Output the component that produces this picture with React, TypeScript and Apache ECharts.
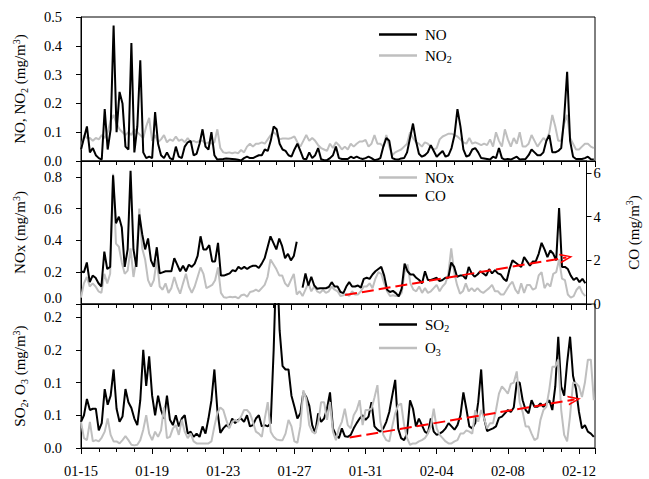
import React, { useEffect, useRef } from "react";
import * as echarts from "echarts";

// Sampling step of the series (hours); first sample at 01-15 00:00
const STEP_HOURS = 4;
const dateLabels = ["01-15", "01-19", "01-23", "01-27", "01-31", "02-04", "02-08", "02-12"];
const so2TickLabels = ["0.0", "0.1", "0.1", "0.2", "0.2"];

const NO = [
  0.04, 0.08, 0.12, 0.03, 0.045, 0.02,
  0.01, 0.005, 0.18, 0.04, 0.11, 0.47,
  0.10, 0.24, 0.20, 0.05, 0.04, 0.41,
  0.03, 0.12, 0.35, 0.03, 0.01, 0.015,
  0.01, 0.17, 0.06, 0.02, 0.01, 0.03,
  0.01, 0.005, 0.05, 0.015, 0.01, 0.05,
  0.065, 0.07, 0.02, 0.025, 0.06, 0.11,
  0.05, 0.04, 0.10, 0.02, 0.005, 0.006,
  0.007, 0.009, 0.008, 0.007, 0.006, 0.004,
  0.002, 0.01, 0.015, 0.01, 0.01, 0.015,
  0.02, 0.02, 0.04, 0.035, 0.07, 0.12,
  0.11, 0.06, 0.04, 0.035, 0.02, 0.015,
  0.04, 0.06, 0.035, 0.008, 0.006, 0.03,
  0.01, 0.02, 0.045, 0.006, 0.003, 0.003,
  0.01, 0.02, 0.05, 0.01, 0.007, 0.007,
  0.007, 0.015, 0.01, 0.015, 0.01, 0.007,
  0.01, 0.015, 0.01, 0.003, 0.005, 0.01,
  0.05, 0.08, 0.07, 0.01, 0.006, 0.005,
  0.009, 0.01, 0.03, 0.08, 0.13, 0.07,
  0.025, 0.015, 0.02, 0.03, 0.055, 0.035,
  0.015, 0.025, 0.035, 0.015, 0.02, 0.045,
  0.09, 0.18, 0.12, 0.04, 0.015, 0.02,
  0.04, 0.045, 0.03, 0.01, 0.009, 0.007,
  0.005, 0.015, 0.01, 0.045, 0.01, 0.005,
  0.007, 0.005, 0.01, 0.015, 0.005, 0.006,
  0.007, 0.02, 0.04, 0.03, 0.02, 0.02,
  0.03, 0.07, 0.09, 0.03, 0.03, 0.035,
  0.045, 0.15, 0.31, 0.07, 0.015, 0.007,
  0.007, 0.007, 0.01, 0.015, 0.006, 0.005,
];

const NO2 = [
  0.04, 0.09, 0.08, 0.08, 0.07, 0.08,
  0.075, 0.09, 0.08, 0.10, 0.14, 0.16,
  0.13, 0.11, 0.10, 0.09, 0.10, 0.09,
  0.11, 0.10, 0.09, 0.08, 0.12, 0.15,
  0.07, 0.09, 0.065, 0.075, 0.09, 0.065,
  0.075, 0.07, 0.085, 0.07, 0.075, 0.065,
  0.08, 0.065, 0.07, 0.065, 0.07, 0.07,
  0.06, 0.065, 0.06, 0.065, 0.11, 0.045,
  0.03, 0.028, 0.03, 0.027, 0.03, 0.027,
  0.038, 0.03, 0.05, 0.06, 0.05, 0.06,
  0.06, 0.065, 0.06, 0.075, 0.09, 0.10,
  0.09, 0.075, 0.078, 0.078, 0.077, 0.08,
  0.085, 0.065, 0.05, 0.07, 0.09, 0.07,
  0.08, 0.07, 0.055, 0.045, 0.04, 0.035,
  0.06, 0.045, 0.065, 0.055, 0.04, 0.05,
  0.04, 0.06, 0.05, 0.06, 0.068, 0.068,
  0.073, 0.05, 0.06, 0.09, 0.06, 0.06,
  0.05, 0.09, 0.05, 0.02, 0.03, 0.035,
  0.04, 0.05, 0.06, 0.10, 0.08, 0.065,
  0.06, 0.05, 0.065, 0.06, 0.05, 0.04,
  0.045, 0.075, 0.085, 0.09, 0.095, 0.095,
  0.09, 0.085, 0.075, 0.065, 0.06, 0.08,
  0.06, 0.065, 0.06, 0.055, 0.06, 0.055,
  0.075, 0.05, 0.10, 0.07, 0.05, 0.11,
  0.075, 0.05, 0.08, 0.06, 0.10, 0.05,
  0.05, 0.06, 0.09, 0.07, 0.05, 0.065,
  0.08, 0.07, 0.10, 0.16, 0.12, 0.07,
  0.07, 0.13, 0.16, 0.08, 0.06, 0.04,
  0.04, 0.05, 0.06, 0.06, 0.05, 0.045,
];

const NOX = [
  0.04, 0.13, 0.17, 0.11, 0.13, 0.11,
  0.08, 0.07, 0.19, 0.13, 0.19, 0.82,
  0.38, 0.36, 0.26, 0.19, 0.21, 0.35,
  0.17, 0.28, 0.60, 0.35, 0.28, 0.15,
  0.11, 0.15, 0.28, 0.11, 0.09, 0.13,
  0.07, 0.10, 0.17, 0.11, 0.065, 0.13,
  0.19, 0.11, 0.07, 0.11, 0.17, 0.23,
  0.19, 0.10, 0.11, 0.12, 0.15, 0.23,
  0.07, 0.042, 0.04, 0.045, 0.042, 0.045,
  0.035, 0.055, 0.06, 0.045, 0.075, 0.08,
  0.09, 0.08, 0.10, 0.12, 0.17, 0.28,
  0.25, 0.22, 0.18, 0.18, 0.13, 0.11,
  0.15, 0.19, 0.06, 0.08, 0.05, 0.09,
  0.13, 0.08, 0.11, 0.08, 0.07, 0.09,
  0.07, 0.08, 0.11, 0.09, 0.08, 0.05,
  0.055, 0.065, 0.05, 0.08, 0.06, 0.06,
  0.08, 0.11, 0.11, 0.13, 0.10, 0.16,
  0.20, 0.19, 0.13, 0.08, 0.05, 0.055,
  0.05, 0.05, 0.07, 0.20, 0.25, 0.13,
  0.09, 0.08, 0.11, 0.07, 0.10, 0.07,
  0.08, 0.10, 0.12, 0.08, 0.11, 0.13,
  0.19, 0.35, 0.20, 0.12, 0.065, 0.08,
  0.13, 0.08, 0.10, 0.08, 0.10, 0.08,
  0.07, 0.085, 0.10, 0.12, 0.08, 0.08,
  0.06, 0.06, 0.09, 0.12, 0.14, 0.09,
  0.065, 0.13, 0.07, 0.12, 0.12, 0.09,
  0.10, 0.18, 0.20, 0.10, 0.13, 0.11,
  0.19, 0.20, 0.28, 0.16, 0.15, 0.06,
  0.04, 0.05, 0.09, 0.11, 0.07, 0.05,
];

const CO = [
  1.5, 1.45, 1.9, 1.0, 1.3, 1.2,
  0.95, 0.8, 2.4, 1.6, 1.7, 5.9,
  3.7, 4.0, 3.5, 1.7, 2.5, 6.1,
  2.5, 1.7, 4.1, 3.2, 2.5, 3.0,
  2.0, 1.7, 2.6, 1.4, 1.45, 1.5,
  1.5, 1.5, 2.1, 1.8, 1.5, 1.75,
  1.5, 1.8, 1.7, 1.85, 2.2, 3.1,
  2.5, 2.5, 2.7, 1.95, 1.95, 2.8,
  1.3, 1.3, 1.35, 1.4, 1.55, 1.5,
  1.7, 1.6, 1.7, 1.6, 1.7, 1.75,
  1.75, 1.65, 1.85, 2.1, 2.6, 3.1,
  2.8, 2.5, 3.0, 2.65, 2.1, 2.3,
  2.0, 2.2, 2.85, null, 0.75, 1.4,
  0.85, 1.25, 0.85, 0.7, 0.72, 0.72,
  0.72, 0.78, 1.0, 0.8, 0.8, 0.55,
  0.5, 0.8, 1.0, 0.8, 0.8, 0.85,
  0.75, 1.15, 1.2, 1.15, 1.35, 1.5,
  1.6, 1.7, 1.3, 0.65, 0.55, 0.6,
  0.5, 0.35, 0.7, 1.85, 1.5, 1.35,
  1.35, 1.2, 1.1, 0.95, 1.5, 1.1,
  1.1, 1.15, 1.2, 1.05, 1.1, 1.2,
  1.2, 1.9, 1.7, 1.25, 1.3, 1.3,
  1.15, 1.7, 1.4, 1.25, 1.35, 1.5,
  1.4, 1.3, 1.6, 1.4, 1.55, 1.4,
  1.35, 1.15, 1.05, 1.6, 2.0, 1.9,
  1.8, 1.7, 2.15, 1.95, 1.75, 1.95,
  1.95, 2.3, 2.8, 2.5, 2.15, 2.45,
  2.3, 2.0, 4.4, 1.7, 1.7, 1.6,
  1.3, 1.1, 1.2, 1.0, 1.15, 0.95,
];

const SO2 = [
  0.04, 0.05, 0.075, 0.058, 0.06, 0.06,
  0.027, 0.038, 0.09, 0.066, 0.08, 0.12,
  0.06, 0.04, 0.048, 0.09, 0.07, 0.061,
  0.045, 0.035, 0.073, 0.15, 0.095, 0.14,
  0.08, 0.05, 0.08, 0.058, 0.045, 0.08,
  0.043, 0.035, 0.05, 0.033, 0.045, 0.05,
  0.022, 0.025, 0.017, 0.022, 0.017, 0.033,
  0.022, 0.045, 0.073, 0.12, 0.058, 0.023,
  0.03, 0.035, 0.032, 0.045, 0.038, 0.043,
  0.045, 0.04, 0.05, 0.033, 0.035, 0.045,
  0.05, 0.033, 0.035, 0.033, 0.038, 0.15,
  0.30, 0.18, 0.125, 0.12, 0.12, 0.08,
  0.063, 0.045, 0.053, 0.085, 0.078, 0.065,
  0.035, 0.023, 0.053, 0.04, 0.045, 0.06,
  0.085, 0.03, 0.02, 0.015, 0.03, 0.018,
  0.017, 0.02, 0.03, 0.038, 0.045, 0.05,
  0.043, 0.048, 0.07, 0.033, 0.028, 0.025,
  0.03, 0.04, 0.055, 0.08, 0.104, 0.03,
  0.015, 0.012, 0.022, 0.073, 0.06, 0.033,
  0.045, 0.035, 0.025, 0.022, 0.045, 0.025,
  0.02, 0.022, 0.025, 0.03, 0.038, 0.033,
  0.028, 0.035, 0.05, 0.085, 0.06, 0.033,
  0.03, 0.038, 0.07, 0.12, 0.045, 0.026,
  0.028, 0.03, 0.033, 0.046, 0.048, 0.053,
  0.058, 0.055, 0.062, 0.10, 0.10, 0.073,
  0.058, 0.053, 0.073, 0.063, 0.063, 0.068,
  0.063, 0.068, 0.073, 0.058, 0.094, 0.17,
  0.094, 0.08, 0.13, 0.17, 0.11, 0.09,
  0.055, 0.03, 0.035, 0.025, 0.022, 0.017,
];

const O3 = [
  0.04, 0.015, 0.012, 0.04, 0.01, 0.012,
  0.01, 0.016, 0.025, 0.045, 0.02, 0.01,
  0.01, 0.007, 0.012, 0.018, 0.012, 0.005,
  0.004, 0.005, 0.012, 0.028, 0.05, 0.022,
  0.012, 0.025, 0.017, 0.027, 0.062, 0.015,
  0.017, 0.03, 0.035, 0.02, 0.043, 0.025,
  0.015, 0.022, 0.01, 0.007, 0.007, 0.007,
  0.007, 0.007, 0.01, 0.033, 0.053, 0.062,
  0.058, 0.043, 0.03, 0.04, 0.043, 0.04,
  0.048, 0.058, 0.058, 0.053, 0.04, 0.025,
  0.022, 0.017, 0.045, 0.07, 0.025, 0.017,
  0.013, 0.012, 0.012, 0.022, 0.043, 0.033,
  0.01, 0.008, 0.033, 0.088, 0.075, 0.035,
  0.025, 0.022, 0.038, 0.07, 0.07, 0.043,
  0.07, 0.025, 0.012, 0.03, 0.04, 0.06,
  0.035, 0.03, 0.05, 0.058, 0.073, 0.035,
  0.058, 0.058, 0.06, 0.077, 0.096, 0.04,
  0.02, 0.012, 0.01, 0.033, 0.053, 0.065,
  0.068, 0.035, 0.015, 0.005, 0.007, 0.007,
  0.01, 0.012, 0.015, 0.022, 0.033, 0.06,
  0.03, 0.02, 0.015, 0.01, 0.007, 0.007,
  0.01, 0.012, 0.022, 0.022, 0.027, 0.025,
  0.022, 0.058, 0.04, 0.058, 0.045, 0.03,
  0.038, 0.038, 0.058, 0.083, 0.094, 0.089,
  0.083, 0.098, 0.10, 0.117, 0.07, 0.055,
  0.033, 0.033, 0.022, 0.012, 0.015, 0.043,
  0.058, 0.063, 0.09, 0.124, 0.124, 0.135,
  0.058, 0.02, 0.01, 0.05, 0.10, 0.099,
  0.094, 0.078, 0.10, 0.135, 0.135, 0.073,
];

// Trend arrows: [day, value] start and end
const coTrend = [[15.1, 0.41], [27.75, 2.13]];
const so2Trend = [[15.1, 0.016], [27.75, 0.074]];

const FONT = "'Liberation Serif', 'Times New Roman', serif";
const GREY = "#bfbfbf";
const CHEVRON = "path://M5,0 L10,12 L8.2,12 L5,3.6 L1.8,12 L0,12 Z";

const legendText: Record<string, string> = {
  NO: "{n|NO}",
  NO2: "{n|NO}{sub|2}",
  NOx: "{n|NOx}",
  CO: "{n|CO}",
  SO2: "{n|SO}{sub|2}",
  O3: "{n|O}{sub|3}",
};

export default function App() {
  const ref = useRef<HTMLDivElement>(null);
  useEffect(() => {
    const chart = echarts.init(ref.current!, null, { renderer: "svg" });
    const days = NO.map((_, i) => (i * STEP_HOURS) / 24);
    const pair = (arr: (number | null)[]) => arr.map((v, i) => [days[i], v]);

    const rich = {
      n: { fontFamily: FONT, fontSize: 15, lineHeight: 18, verticalAlign: "middle", color: "#000" },
      sub: { fontFamily: FONT, fontSize: 10, lineHeight: 10, verticalAlign: "bottom", color: "#000" },
      sup: { fontFamily: FONT, fontSize: 10, lineHeight: 10, verticalAlign: "top", color: "#000" },
    };
    const near = (v: number, step: number) => Math.abs(v / step - Math.round(v / step)) < 1e-6;
    const labelStyle = { fontFamily: FONT, fontSize: 14.5, lineHeight: 12, color: "#000" };
    const axisLine = { show: true, lineStyle: { color: "#000", width: 1 } };
    const tick = { show: true, inside: false, length: 5, lineStyle: { color: "#000" } };

    const grids = [
      { left: 81, right: 54, top: 17, height: 144 },
      { left: 81, right: 54, top: 161, height: 143 },
      { left: 81, right: 54, top: 304, height: 144 },
    ].map((g) => ({ ...g, show: true, borderColor: "#000", borderWidth: 1, backgroundColor: "transparent" }));

    const xAxes = [0, 1, 2].map((gi) => ({
      type: "value",
      gridIndex: gi,
      min: 0,
      max: 28.9,
      interval: 4,
      axisLine,
      axisTick: { show: true, inside: false, length: 6, lineStyle: { color: "#000" } },
      minorTick: { show: true, splitNumber: 4, length: 4, lineStyle: { color: "#000" } },
      splitLine: { show: false },
      axisLabel: {
        show: gi === 2,
        ...labelStyle,
        lineHeight: 16,
        margin: 15,
        formatter: (v: number) => (near(v, 4) ? dateLabels[Math.round(v / 4)] ?? "" : ""),
      },
    }));

    const yAxes = [
      {
        type: "value",
        gridIndex: 0,
        min: 0,
        max: 0.5,
        interval: 0.1,
        name: "{n|NO, NO}{sub|2}{n| (mg/m}{sup|3}{n|)}",
        nameLocation: "middle",
        nameRotate: 90,
        nameGap: 52,
        nameTextStyle: { rich },
        axisLine,
        axisTick: tick,
        splitLine: { show: false },
        axisLabel: { ...labelStyle, margin: 19, formatter: (v: number) => v.toFixed(1) },
      },
      {
        type: "value",
        gridIndex: 1,
        min: 0,
        max: 0.9,
        interval: 0.2,
        name: "{n|NOx (mg/m}{sup|3}{n|)}",
        nameLocation: "middle",
        nameRotate: 90,
        nameGap: 52,
        nameTextStyle: { rich },
        axisLine,
        axisTick: tick,
        splitLine: { show: false },
        axisLabel: {
          ...labelStyle,
          margin: 19,
          verticalAlignMinLabel: "bottom",
          formatter: (v: number) => (near(v, 0.2) ? v.toFixed(1) : ""),
        },
      },
      {
        type: "value",
        gridIndex: 1,
        position: "right",
        min: 0,
        max: 6.55,
        interval: 2,
        name: "{n|CO (mg/m}{sup|3}{n|)}",
        nameLocation: "middle",
        nameRotate: 90,
        nameGap: 38,
        nameTextStyle: { rich },
        axisLine,
        axisTick: tick,
        splitLine: { show: false },
        axisLabel: { ...labelStyle, margin: 7, formatter: (v: number) => (near(v, 2) ? String(Math.round(v)) : "") },
      },
      {
        type: "value",
        gridIndex: 2,
        min: 0,
        max: 0.22,
        interval: 0.05,
        name: "{n|SO}{sub|2}{n|, O}{sub|3}{n| (mg/m}{sup|3}{n|)}",
        nameLocation: "middle",
        nameRotate: 90,
        nameGap: 52,
        nameTextStyle: { rich },
        axisLine,
        axisTick: tick,
        splitLine: { show: false },
        axisLabel: {
          ...labelStyle,
          margin: 19,
          formatter: (v: number) => (near(v, 0.05) ? so2TickLabels[Math.round(v / 0.05)] ?? "" : ""),
        },
      },
    ];

    const legendBase = {
      orient: "vertical",
      left: 379,
      itemWidth: 38,
      itemHeight: 2.5,
      icon: "rect",
      selectedMode: false,
      padding: 0,
      textStyle: { rich, padding: [0, 0, 0, 3] },
      formatter: (name: string) => legendText[name] ?? name,
    };

    const lineSeries = (name: string, data: (number | null)[], color: string, xi: number, yi: number, extra = {}) => ({
      type: "line",
      name,
      xAxisIndex: xi,
      yAxisIndex: yi,
      data: pair(data),
      showSymbol: false,
      symbol: "none",
      connectNulls: false,
      lineStyle: { color, width: 2 },
      itemStyle: { color },
      emphasis: { disabled: true },
      ...extra,
    });

    const trend = (pts: number[][]) => ({
      silent: true,
      symbol: ["none", CHEVRON],
      symbolSize: [10, 13],
      lineStyle: { color: "#ff0000", width: 2, type: [12, 5] },
      label: { show: false },
      emphasis: { disabled: true },
      data: [[{ coord: pts[0] }, { coord: pts[1] }]],
    });

    chart.setOption({
      animation: false,
      backgroundColor: "#fff",
      textStyle: { fontFamily: FONT },
      grid: grids,
      xAxis: xAxes,
      yAxis: yAxes,
      legend: [
        { ...legendBase, top: 27, itemGap: 6, data: ["NO", "NO2"] },
        { ...legendBase, top: 170, itemGap: 3, data: ["NOx", "CO"] },
        { ...legendBase, top: 317, itemGap: 7, data: ["SO2", "O3"] },
      ],
      series: [
        lineSeries("NO2", NO2, GREY, 0, 0),
        lineSeries("NO", NO, "#000", 0, 0),
        lineSeries("NOx", NOX, GREY, 1, 1),
        lineSeries("CO", CO, "#000", 1, 2, { markLine: trend(coTrend) }),
        lineSeries("SO2", SO2, "#000", 2, 3, { markLine: trend(so2Trend) }),
        lineSeries("O3", O3, GREY, 2, 3),
      ],
    });
    return () => chart.dispose();
  }, []);
  return <div ref={ref} style={{ position: "fixed", left: 0, top: 0, width: 649, height: 479 }} />;
}
